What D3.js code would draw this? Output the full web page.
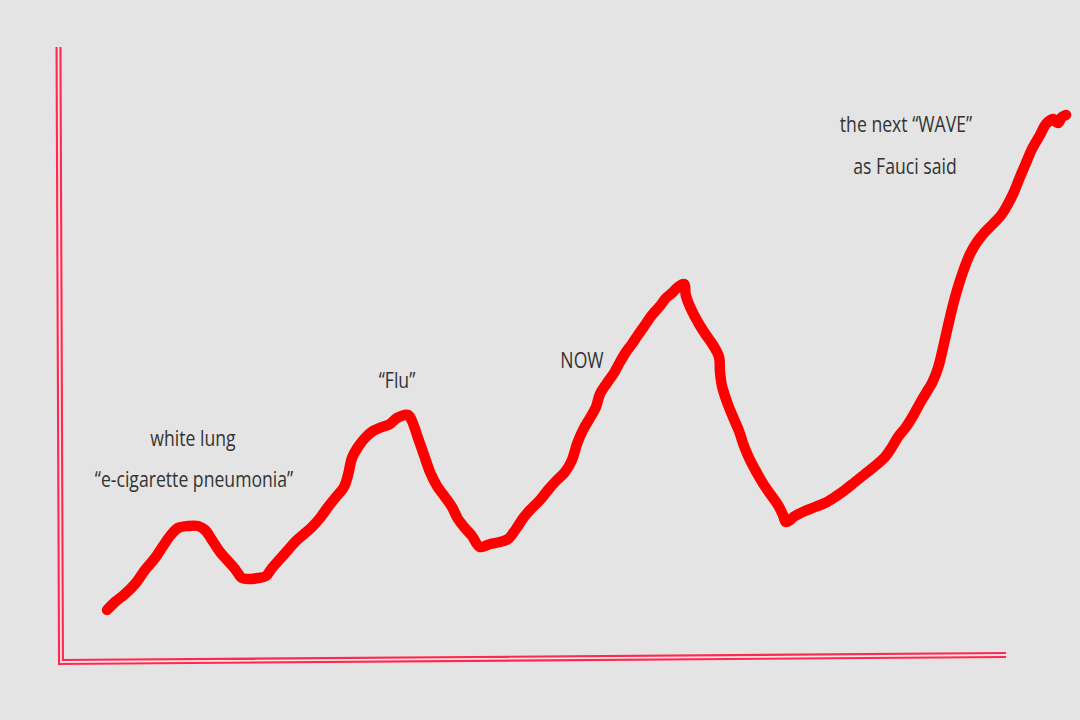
<!DOCTYPE html>
<html><head><meta charset="utf-8">
<script src="https://cdn.jsdelivr.net/npm/d3@7"></script>
<style>html,body{margin:0;padding:0;background:#e4e4e4;}svg{display:block;}</style>
</head><body>
<svg id="c" width="1080" height="720"></svg>
<script>
// time (x) and level (y) readings of the hand-drawn curve
const times = [47,55,65,75,85,95,103,110,118,128,138,145,152,160,168,175,182,190,198,206,212,220,228,236,244,252,260,268,276,284,288,292,298,305,313,322,330,337,348,352,358,364,370,377,385,392,398,405,412,420,430,440,448,456,464,472,480,488,496,505,512,517,523,530,536,540,547,554,560,566,572,578,585,592,600,606,612,618,624,626,632,639,646,653,659,660,662,667,673,679,684,690,697,704,711,718,723,726,735,745,755,765,775,785,795,805,815,825,832,838,846,853,859,866,872,878,883,888,893,898,904,910,917,925,933,942,948,954,960,966,972,980,986,993,998,1002,1006];
const levels = [52,60,68,78,92,104,116,126,134,136,136,132,122,110,101,93,84,83,84,86,94,103,112,121,128,135,144,155,165,175,187,204,215,224,231,235,238,244,247,241,224,207,190,176,165,155,143,134,126,115,118,120,123,133,145,154,162,172,181,190,202,218,232,244,255,268,279,289,300,310,318,327,337,347,356,364,369,375,378,366,351,338,327,317,305,290,276,260,245,231,216,202,189,177,167,157,147,140,146,151,155,159,165,172,180,188,196,205,215,225,235,246,257,269,279,294,314,336,357,375,393,408,420,430,438,448,458,470,485,499,513,527,538,543,539,545,547];

const axisX = [0, 0, 946];
const axisY = [615, 0, 6];

const notes = [
  {text: "white lung", t: 133, v: 216},
  {text: "\u201ce-cigarette pneumonia\u201d", t: 134, v: 175},
  {text: "\u201cFlu\u201d", t: 337, v: 274},
  {text: "NOW", t: 522, v: 294},
  {text: "the next \u201cWAVE\u201d", t: 846, v: 530},
  {text: "as Fauci said", t: 845, v: 488}
];

const svg = d3.select("#c");
const x = d3.scaleLinear().domain([0, 1000]).range([60, 1060]);
const y = d3.scaleLinear().domain([0, 615]).range([662, 47]);

// axes drawn as double strokes (hand-drawn look)
const axisPts = [[x(axisX[0]) - 1.5, y(axisY[0])], [x(axisX[1]) + 1, y(axisY[1])], [x(axisX[2]), y(axisY[2]) - 1]];
const axLine = d3.line();
svg.append("path").attr("d", axLine(axisPts)).attr("fill", "none")
  .attr("stroke", "#ff2850").attr("stroke-width", 6).attr("stroke-linejoin", "miter");
svg.append("path").attr("d", axLine(axisPts)).attr("fill", "none")
  .attr("stroke", "#f6e4e7").attr("stroke-width", 1.8).attr("stroke-linejoin", "miter");

const data = times.map((t, i) => [t, levels[i]]);
const line = d3.line().x(d => x(d[0])).y(d => y(d[1])).curve(d3.curveCatmullRom.alpha(0.5));
svg.append("path").datum(data).attr("d", line).attr("fill", "none")
  .attr("stroke", "#ff0000").attr("stroke-width", 10.5)
  .attr("stroke-linecap", "round").attr("stroke-linejoin", "round");

const g = svg.append("g");
notes.forEach(n => {
  g.append("text")
    .attr("transform", `translate(${x(n.t)},${y(n.v)}) scale(0.84,1)`)
    .attr("text-anchor", "middle")
    .attr("font-family", "'Open Sans', sans-serif")
    .attr("font-size", 21)
    .attr("fill", "#333")
    .text(n.text);
});
</script>
</body></html>
